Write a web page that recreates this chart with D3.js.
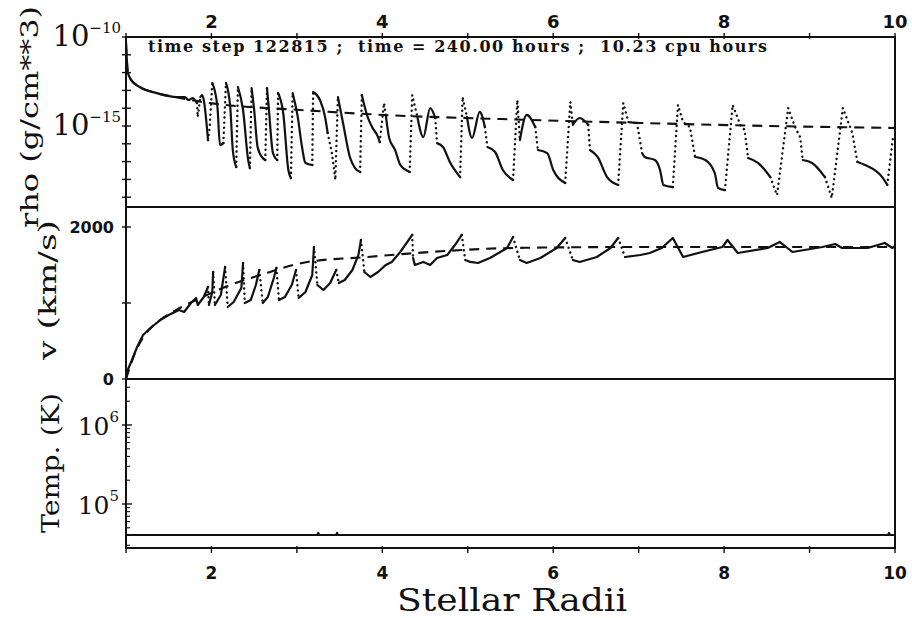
<!DOCTYPE html>
<html>
<head>
<meta charset="utf-8">
<script src="https://cdn.jsdelivr.net/npm/d3@7"></script>
<style>
  body { margin: 0; background: #fff; }
  svg { display: block; }
</style>
</head>
<body>
<svg id="chart" width="912" height="618"></svg>
<script>
// 星风模拟快照：rho / v / Temp 三层共用 x 轴（Stellar Radii）
// 实线 = 连续段，点线 = 激波处陡变段，虚线 = 平均（稳态）解

const HEADER = "time step 122815 ;  time = 240.00 hours ;  10.23 cpu hours";
const X_TICKS = [1, 2, 3, 4, 5, 6, 7, 8, 9, 10];
const X_LABELS = [2, 4, 6, 8, 10];
const RHO_DECADES = [-10, -11, -12, -13, -14, -15, -16, -17, -18, -19];
const RHO_LABELS = [-10, -15];
const V_TICKS = [0, 1000, 2000];
const V_LABELS = [0, 2000];
const T_DECADES = [4, 5, 6];
const T_LABELS = [5, 6];

// [r, log10 rho]
const RHO_SOLID = [
  [[1.00,-10.28],[1.01,-11.29],[1.02,-11.97],[1.06,-12.42],[1.16,-12.81],[1.36,-13.15],[1.60,-13.37],[1.69,-13.37],[1.73,-13.54],[1.78,-13.43],[1.83,-13.71]],
  [[1.87,-13.37],[1.89,-13.26],[1.91,-13.54],[1.96,-15.79]],
  [[2.01,-12.58],[2.07,-13.93],[2.10,-16.07],[2.14,-15.96]],
  [[2.17,-12.58],[2.22,-13.93],[2.25,-16.35],[2.29,-17.30]],
  [[2.31,-12.81],[2.37,-14.10],[2.43,-16.91],[2.45,-17.36]],
  [[2.47,-12.87],[2.50,-14.10],[2.54,-16.18],[2.60,-16.80],[2.63,-16.91]],
  [[2.65,-12.87],[2.67,-13.93],[2.72,-16.52],[2.77,-16.91]],
  [[2.78,-13.15],[2.84,-14.27],[2.90,-17.47],[2.93,-17.92]],
  [[2.95,-13.15],[3.01,-14.49],[3.06,-16.18],[3.10,-17.08],[3.18,-17.19]],
  [[3.19,-13.09],[3.27,-13.54],[3.33,-14.49],[3.36,-15.39]],
  [[3.48,-13.37],[3.54,-14.83],[3.62,-16.74],[3.68,-17.36],[3.74,-17.58]],
  [[3.76,-13.26],[3.82,-14.38],[3.88,-15.06],[3.95,-15.62],[3.97,-15.90]],
  [[4.04,-14.38],[4.08,-15.67],[4.15,-16.35],[4.21,-17.19],[4.32,-17.58]],
  [[4.41,-14.49],[4.48,-15.62],[4.56,-13.99],[4.62,-14.55]],
  [[4.64,-15.96],[4.71,-16.18],[4.79,-17.02],[4.91,-17.87]],
  [[4.99,-14.49],[5.05,-15.67],[5.14,-14.21],[5.20,-15.06]],
  [[5.23,-16.18],[5.32,-16.46],[5.41,-17.47],[5.53,-18.03]],
  [[5.61,-15.79],[5.69,-14.38],[5.79,-15.06]],
  [[5.82,-16.35],[5.93,-16.52],[6.00,-17.47],[6.14,-18.20]],
  [[6.23,-14.94],[6.31,-14.55],[6.41,-14.94]],
  [[6.43,-16.35],[6.52,-16.74],[6.63,-17.87],[6.76,-18.31]],
  [[6.88,-14.78],[6.98,-14.83]],
  [[7.04,-16.52],[7.07,-16.74],[7.19,-16.91],[7.25,-17.47],[7.29,-18.31],[7.40,-18.43]],
  [[7.66,-16.74],[7.78,-16.91],[7.89,-17.64],[7.93,-18.48],[8.01,-18.60]],
  [[8.28,-16.80],[8.40,-17.08],[8.54,-17.87]],
  [[8.92,-16.91],[9.03,-17.08],[9.18,-17.87]],
  [[9.56,-17.02],[9.65,-17.19],[9.85,-17.87],[9.91,-18.31]]
];
const RHO_DOTTED = [
  [[1.83,-13.71],[1.84,-14.49],[1.87,-13.37]],
  [[1.96,-15.79],[1.98,-15.06],[2.01,-12.58]],
  [[2.14,-15.96],[2.17,-12.58]],
  [[2.29,-17.30],[2.31,-12.81]],
  [[2.45,-17.36],[2.47,-12.87]],
  [[2.63,-16.91],[2.65,-12.87]],
  [[2.77,-16.91],[2.78,-13.15]],
  [[2.93,-17.92],[2.95,-13.15]],
  [[3.18,-17.19],[3.19,-13.09]],
  [[3.36,-15.39],[3.41,-16.52],[3.45,-18.03],[3.48,-13.37]],
  [[3.74,-17.58],[3.76,-13.26]],
  [[3.97,-15.90],[4.02,-13.71],[4.04,-14.38]],
  [[4.32,-17.58],[4.35,-13.26],[4.41,-14.49]],
  [[4.62,-14.55],[4.64,-15.96]],
  [[4.91,-17.87],[4.94,-13.37],[4.99,-14.49]],
  [[5.20,-15.06],[5.23,-16.18]],
  [[5.53,-18.03],[5.58,-13.54],[5.61,-15.79]],
  [[5.79,-15.06],[5.82,-16.35]],
  [[6.14,-18.20],[6.20,-13.65],[6.23,-14.94]],
  [[6.41,-14.94],[6.43,-16.35]],
  [[6.76,-18.31],[6.82,-13.71],[6.88,-14.78]],
  [[6.98,-14.83],[7.04,-16.52]],
  [[7.40,-18.43],[7.46,-13.82],[7.52,-14.78],[7.60,-15.06],[7.66,-16.74]],
  [[8.01,-18.60],[8.10,-13.82],[8.19,-14.94],[8.24,-15.22],[8.28,-16.80]],
  [[8.54,-17.87],[8.62,-18.88],[8.75,-13.99],[8.83,-15.06],[8.89,-15.62],[8.92,-16.91]],
  [[9.18,-17.87],[9.26,-19.04],[9.39,-13.99],[9.50,-15.39],[9.56,-17.02]],
  [[9.91,-18.31],[9.98,-15.51]]
];
const RHO_MEAN = [[1.00,-10.40],[1.02,-11.90],[1.06,-12.40],[1.16,-12.80],[1.36,-13.15],[1.60,-13.40],[1.98,-13.71],
  [3.04,-14.10],[4.02,-14.38],[5.39,-14.61],[7.02,-14.83],[8.54,-15.00],[10.00,-15.11]];

// [r, v km/s]
const V_SOLID = [
  [[1.00,0],[1.02,118],[1.07,250],[1.13,421],[1.20,579],[1.30,684],[1.40,776],[1.50,842],[1.62,908],[1.68,882],[1.76,1000],[1.82,1066],[1.84,974],[1.91,1079],[1.96,1211]],
  [[1.97,974],[2.01,1145],[2.02,1408]],
  [[2.04,974],[2.11,1105],[2.16,1474]],
  [[2.19,947],[2.26,1013],[2.35,1197],[2.37,1526]],
  [[2.39,1000],[2.46,1039],[2.52,1237],[2.56,1434]],
  [[2.60,1000],[2.66,1079],[2.73,1329],[2.76,1461]],
  [[2.79,1039],[2.86,1079],[2.94,1237],[2.99,1434]],
  [[3.02,1066],[3.10,1145],[3.18,1368],[3.20,1737]],
  [[3.24,1237],[3.31,1171],[3.39,1263],[3.46,1434]],
  [[3.49,1263],[3.56,1303],[3.65,1434],[3.72,1632],[3.75,1829]],
  [[3.79,1408],[3.86,1342],[3.95,1408],[4.04,1500],[4.11,1540],[4.21,1671],[4.35,1895]],
  [[4.36,1592],[4.38,1500],[4.48,1540],[4.56,1500],[4.64,1592],[4.76,1632],[4.85,1763],[4.93,1895]],
  [[4.97,1566],[5.03,1540],[5.12,1526],[5.26,1592],[5.46,1724],[5.53,1868]],
  [[5.61,1566],[5.69,1526],[5.85,1592],[6.04,1724],[6.14,1855]],
  [[6.23,1566],[6.31,1540],[6.51,1605],[6.67,1724],[6.76,1855]],
  [[6.84,1605],[7.02,1632],[7.13,1658],[7.27,1724],[7.40,1855],[7.52,1605],[7.74,1671],[7.98,1737],[8.04,1829],[8.16,1658],
   [8.51,1724],[8.65,1803],[8.80,1671],[9.15,1737],[9.30,1776],[9.38,1724],[9.68,1724],[9.88,1790],[9.97,1724],[10.00,1750]]
];
const V_DOTTED = [
  [[1.96,1211],[1.97,974]], [[2.02,1408],[2.04,974]], [[2.16,1474],[2.19,947]], [[2.37,1526],[2.39,1000]],
  [[2.56,1434],[2.60,1000]], [[2.76,1461],[2.79,1039]], [[2.99,1434],[3.02,1066]], [[3.20,1737],[3.24,1237]],
  [[3.46,1434],[3.49,1263]], [[3.75,1829],[3.79,1408]], [[4.35,1895],[4.36,1592]], [[4.93,1895],[4.97,1566]],
  [[5.53,1868],[5.61,1566]], [[6.14,1855],[6.23,1566]], [[6.76,1855],[6.84,1605]]
];
const V_MEAN = [[1.00,0],[1.11,355],[1.22,579],[1.40,776],[1.63,934],[1.87,1066],[2.22,1237],[2.57,1368],
  [3.12,1539],[3.82,1605],[4.56,1671],[5.53,1724],[7.04,1737],[10.00,1737]];

// [r, T K]
const TEMP = [[1.00,40500],[3.24,40500],[3.25,43000],[3.26,40500],[3.46,40500],[3.47,43000],[3.48,40500],
  [9.92,40500],[9.93,43000],[9.94,40500],[10.00,40500]];

const L = 126, R = 895, Y0 = 37, Y1 = 207, Y2 = 379, Y3 = 548;
const SERIF = "'DejaVu Serif', 'Liberation Serif', serif";
const SANS = "'DejaVu Sans', 'Liberation Sans', sans-serif";

const x = d3.scaleLinear().domain([1, 10]).range([L, R]);
const yRho = d3.scaleLog().domain([1e-10, Math.pow(10, -19.55)]).range([Y0, Y1]);
const yV = d3.scaleLinear().domain([0, 2250]).range([Y2, Y1 + 1]);
const yT = d3.scaleLog().domain([Math.pow(10, 6.582), Math.pow(10, 4.443)]).range([Y2, Y3]);

const svg = d3.select("#chart");

// 裁剪区（每层一块）
const defs = svg.append("defs");
[["cRho", Y0, Y1], ["cV", Y1, Y2], ["cT", Y2, Y3]].forEach(([id, a, b]) => {
  defs.append("clipPath").attr("id", id).append("rect")
    .attr("x", L).attr("y", a).attr("width", R - L).attr("height", b - a);
});

function draw(g, runs, line, kind) {
  runs.forEach(run => {
    const p = g.append("path").attr("d", line(run)).attr("fill", "none")
      .attr("stroke", "#111").attr("stroke-linejoin", "round");
    if (kind === "solid") p.attr("stroke-width", 2.2).attr("stroke-linecap", "round");
    if (kind === "dot") p.attr("stroke-width", 2.4).attr("stroke-linecap", "round").attr("stroke-dasharray", "0.1 5");
    if (kind === "dash") p.attr("stroke-width", 2.1).attr("stroke-dasharray", "10 7");
  });
}

// rho 层
const gRho = svg.append("g").attr("clip-path", "url(#cRho)");
const lRho = () => d3.line().x(d => x(d[0])).y(d => yRho(Math.pow(10, d[1])));
draw(gRho, [RHO_MEAN], lRho().curve(d3.curveMonotoneX), "dash");
draw(gRho, RHO_SOLID, lRho().curve(d3.curveMonotoneX), "solid");
draw(gRho, RHO_DOTTED, lRho(), "dot");

// v 层
const gV = svg.append("g").attr("clip-path", "url(#cV)");
const lV = () => d3.line().x(d => x(d[0])).y(d => yV(d[1]));
draw(gV, [V_MEAN], lV().curve(d3.curveMonotoneX), "dash");
draw(gV, V_SOLID, lV(), "solid");
draw(gV, V_DOTTED, lV(), "dot");

// Temp 层
const gT = svg.append("g").attr("clip-path", "url(#cT)");
draw(gT, [TEMP], d3.line().x(d => x(d[0])).y(d => yT(d[1])), "solid");

// 框与分隔线
const frame = svg.append("g").attr("stroke", "#111").attr("fill", "none");
frame.append("rect").attr("x", L).attr("y", Y0).attr("width", R - L).attr("height", Y3 - Y0).attr("stroke-width", 2);
[Y1, Y2].forEach(y => frame.append("line").attr("x1", L).attr("x2", R).attr("y1", y).attr("y2", y).attr("stroke-width", 2.2));

// 左轴刻度
const tick = (x1, x2, y1, y2, w) => frame.append("line")
  .attr("x1", x1).attr("x2", x2).attr("y1", y1).attr("y2", y2).attr("stroke-width", w || 1.4);
RHO_DECADES.forEach(e => { const y = yRho(Math.pow(10, e)); tick(L - 4, L + 5, y, y); });
V_TICKS.forEach(v => { const y = yV(v); tick(L - 4, L + 5, y, y); });
T_DECADES.forEach(d => {
  d3.range(1, 10).forEach(m => {
    const y = yT(m * Math.pow(10, d));
    if (y < Y2 + 1 || y > Y3 - 1) return;
    tick(L - (m === 1 ? 4 : 1), L + (m === 1 ? 6 : 4), y, y, m === 1 ? 1.4 : 1.1);
  });
});

// x 刻度（上下）
X_TICKS.forEach(r => {
  const xx = x(r);
  tick(xx, xx, Y0 - 4, Y0 + 2);
  tick(xx, xx, Y3 - 2, Y3 + 5);
});

const txt = (g, xx, y, s, style, anchor) => g.append("text").attr("x", xx).attr("y", y)
  .attr("text-anchor", anchor || "middle").attr("style", style).text(s);

const lab = svg.append("g").attr("fill", "#111");
X_LABELS.forEach(r => {
  txt(lab, x(r), 28, r, `font:bold 18px ${SANS}`);
  txt(lab, x(r), 579, r, `font:bold 17px ${SANS}`);
});

// 幂次标签
function powLabel(xEnd, yBase, base, exp, size, esize, rise) {
  const t = lab.append("text").attr("x", xEnd).attr("y", yBase).attr("text-anchor", "end")
    .attr("style", `font:${size}px ${SERIF}`);
  t.append("tspan").text(base);
  t.append("tspan").attr("dy", -rise).attr("style", `font-size:${esize}px`).text(exp);
}
RHO_LABELS.forEach(e => powLabel(121, yRho(Math.pow(10, e)) + 9, "10", String(e).replace("-", "\u2212"), 29, 15, 13));
T_LABELS.forEach(d => powLabel(119, yT(Math.pow(10, d)) + 10, "10", String(d), 25, 15, 13));
V_LABELS.forEach(v => txt(lab, 114, yV(v) + 6, v, `font:bold 16px ${SANS}`, "end"));

// 标题与轴名
txt(lab, 148, 52, HEADER, `font:bold 16px ${SERIF};white-space:pre`, "start").attr("textLength", 619).attr("lengthAdjust", "spacing");
txt(lab, 512, 611, "Stellar Radii", `font:31px ${SERIF}`).attr("textLength", 230).attr("lengthAdjust", "spacingAndGlyphs");

function vLabel(cx, cy, s, len) {
  lab.append("text").attr("transform", `translate(${cx},${cy}) rotate(-90)`)
    .attr("text-anchor", "middle").attr("dy", "0.35em")
    .attr("style", `font:24px ${SERIF}`)
    .attr("textLength", len).attr("lengthAdjust", "spacingAndGlyphs").text(s);
}
vLabel(30, 117, "rho (g/cm**3)", 222);
vLabel(48, 290, "v (km/s)", 140);
vLabel(51, 463, "Temp. (K)", 140);
</script>
</body>
</html>
